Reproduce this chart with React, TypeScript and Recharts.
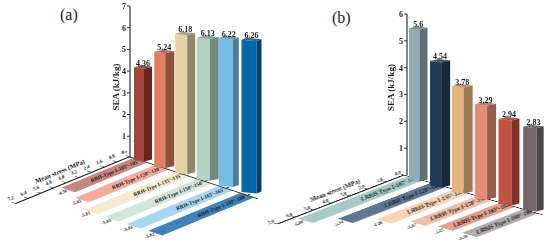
import { BarChart, Bar, XAxis, YAxis, Label } from "recharts";

const serif = '"Liberation Serif", serif';
const ink = "#1c1c1c";

// panel (a)
const categoriesA = [
  "RRH-Type I-105°-105°",
  "RRH-Type I-120°-120°",
  "RRH-Type I-135°-135°",
  "RRH-Type I-150°-150°",
  "RRH-Type I-165°-165°",
  "RRH-Type I-180°-180°",
];
const seaA = [4.36, 5.24, 6.18, 6.13, 6.22, 6.26];
const stressA = [4.56, 5.03, 5.81, 5.85, 5.83, 5.82];
const seaTicksA = [1, 2, 3, 4, 5, 6, 7];
const stressTicksA = [0, 0.8, 1.6, 2.4, 3.2, 4, 4.8, 5.6, 6.4, 7.2];
const frontA = ["#a5443a", "#e07f63", "#e5d2a6", "#b5d3c4", "#74bde6", "#0465ab"];
const sideA = ["#66261f", "#8f5238", "#92866e", "#76887f", "#4b7b99", "#02416f"];
const stripA = ["#c58580", "#f4ac9d", "#f3ebd3", "#d2e6da", "#a8d6ee", "#3f83ba"];

// panel (b)
const categoriesB = [
  "LRRH-Type I-105°-105°",
  "LRRH-Type I-120°-120°",
  "LRRH-Type I-135°-135°",
  "LRRH-Type I-150°-150°",
  "LRRH-Type I-165°-165°",
  "LRRH-Type I-180°-180°",
];
const seaB = [5.6, 4.54, 3.78, 3.29, 2.94, 2.83];
const stressB = [6.08, 5.14, 4.28, 3.67, 3.43, 3.38];
const seaTicksB = [1, 2, 3, 4, 5, 6];
const stressTicksB = [0, 1, 2, 3, 4, 5, 6, 7];
const frontB = ["#90acb6", "#24395c", "#e5b57e", "#e28d75", "#bf5440", "#75686b"];
const sideB = ["#5f7074", "#152a33", "#9a7a56", "#96604e", "#7f3127", "#4d4648"];
const stripB = ["#a9cbc7", "#5f7793", "#f4d5b6", "#f2bfa8", "#e2a08f", "#b0abac"];

const table = (names: string[], sea: number[], stress: number[]) =>
  names.map((name, i) => ({ name, sea: sea[i], stress: stress[i] }));

// floor plane: the stress chart is a flat horizontal bar chart sheared onto the floor
const PX_PER_UNIT = 50;
const ROW = 40;
const PAD_LEFT = 30;
const PAD_TOP = 40;
const AXIS_H = 30;

const Panel = ({ view, names, sea, stress, seaTicks, stressTicks, front, side, strip }: any) => {
  const data = table(names, sea, stress);
  const floorW = view.stressMax * PX_PER_UNIT;
  const lineY = PAD_TOP + AXIS_H;
  // local +x walks towards zero stress, so it is minus the per-unit floor vector
  const [a, b] = [-view.u[0] / PX_PER_UNIT, -view.u[1] / PX_PER_UNIT];
  const [c, d] = [view.v[0] / ROW, view.v[1] / ROW];
  const e = view.origin[0] - a * (PAD_LEFT + floorW) - c * lineY;
  const f = view.origin[1] - b * (PAD_LEFT + floorW) - d * lineY;

  // keeps floor text upright instead of sheared with the plane
  const det = a * d - b * c;
  const ang = Math.atan2(b, a);
  const [cs, sn] = [Math.cos(ang), Math.sin(ang)];
  const unshear = `matrix(${(d * cs - c * sn) / det} ${(-b * cs + a * sn) / det} ${(-d * sn - c * cs) / det} ${(b * sn + a * cs) / det} 0 0)`;
  const floorText = (x: number, y: number, text: string, size: number) => (
    <text
      transform={`translate(${x} ${y}) ${unshear}`}
      textAnchor="middle"
      dominantBaseline="central"
      fontFamily={serif}
      fontWeight={700}
      fontSize={size}
      fill={ink}
    >
      {text}
    </text>
  );

  const StripShape = (p: any) => {
    const left = Math.min(p.x, p.x + p.width);
    const right = Math.max(p.x, p.x + p.width);
    const mid = p.y + p.height / 2;
    return (
      <g>
        <rect x={left} y={p.y} width={right - left} height={p.height} fill={strip[p.index]} />
        {floorText(right - view.labelAt * PX_PER_UNIT, mid, p.payload.name, view.labelSize)}
        {floorText(left - 18, mid, "-" + p.payload.stress.toFixed(2), 4.6)}
      </g>
    );
  };

  const StressTick = (p: any) => floorText(p.x + view.tickDx, p.y + view.tickDy, p.payload.value.toFixed(1), 5);

  const BarShape = (p: any) => {
    const i = p.index;
    const scale = view.grow0 + view.grow * i;
    const h = p.height * scale;
    const base = p.y + p.height + view.drop0 + view.drop * i;
    const top = base - h;
    const x1 = p.x + view.inset + view.spread * i * (i - 5);
    const x2 = x1 + view.face0 + view.face * i;
    const x3 = x2 + view.depth[i];
    const xb = x1 + view.depth[i];
    return (
      <g>
        <polygon points={`${x1},${top} ${x2},${top + 1.5} ${x2},${base + 1.5} ${x1},${base}`} fill={front[i]} />
        <polygon points={`${x2},${top + 1.5} ${x3},${top - 0.5} ${x3},${base - 0.5} ${x2},${base + 1.5}`} fill={side[i]} />
        <polygon points={`${x1},${top} ${x2},${top + 1.5} ${x3},${top - 0.5} ${xb},${top - 2}`} fill={side[i]} fillOpacity={0.8} />
        <text x={(x1 + x3) / 2} y={top - 1.5} textAnchor="middle" fontFamily={serif} fontWeight={700} fontSize={8} fill={ink}>
          {p.payload.sea}
        </text>
      </g>
    );
  };

  return (
    <>
      <div style={{ position: "absolute", left: 0, top: 0, transformOrigin: "0 0", transform: `matrix(${a},${b},${c},${d},${e},${f})` }}>
        <BarChart
          width={PAD_LEFT + floorW + 20}
          height={lineY + ROW * data.length + 4}
          data={data}
          layout="vertical"
          margin={{ top: PAD_TOP, right: 0, bottom: 4, left: PAD_LEFT }}
          barCategoryGap={7}
        >
          <XAxis
            type="number"
            orientation="top"
            reversed
            domain={[0, view.stressMax]}
            ticks={stressTicks}
            height={AXIS_H}
            interval={0}
            tick={StressTick}
            tickSize={8}
            axisLine={{ stroke: ink, strokeWidth: 3 }}
            tickLine={{ stroke: ink, strokeWidth: 2 }}
          >
            <Label
              content={() =>
                floorText(PAD_LEFT + floorW * view.titleAt, lineY + view.titleUp, "Mean stress (MPa)", 6.6)
              }
            />
          </XAxis>
          <YAxis
            type="category"
            dataKey="name"
            orientation="right"
            width={20}
            tickFormatter={() => ""}
            tickSize={10}
            axisLine={{ stroke: ink, strokeWidth: 3 }}
            tickLine={{ stroke: ink, strokeWidth: 2 }}
          />
          <Bar dataKey="stress" shape={StripShape} isAnimationActive={false} />
        </BarChart>
      </div>
      <div style={{ position: "absolute", left: view.chartLeft, top: 0, willChange: "transform" }}>
        <BarChart width={275} height={249} data={data} margin={view.margin} barCategoryGap={0}>
          <XAxis dataKey="name" hide />
          <YAxis
            width={30}
            domain={[0, view.seaMax]}
            ticks={seaTicks}
            interval={0}
            tickSize={3}
            tickMargin={1}
            tick={{ fontSize: 8, fontWeight: 700, fontFamily: serif, fill: ink }}
            axisLine={{ stroke: "#333", strokeWidth: 1.2 }}
            tickLine={{ stroke: "#333" }}
          >
            <Label
              value="SEA (kJ/kg)"
              angle={-90}
              position="center"
              dx={view.titleDx}
              dy={view.titleDy}
              style={{ fontSize: 9, fontWeight: 700, fontFamily: serif, fill: ink }}
            />
          </YAxis>
          <Bar dataKey="sea" shape={BarShape} isAnimationActive={false} />
        </BarChart>
      </div>
    </>
  );
};

const viewA = {
  chartLeft: 0,
  margin: { top: 6, right: 16, bottom: 91, left: 100 },
  seaMax: 7,
  stressMax: 7.2,
  u: [-15.8, 6.5],
  v: [21.4, 7],
  origin: [129.5, 156.8],
  labelAt: 1.6,
  labelSize: 5.4,
  tickDx: 15,
  tickDy: -8,
  titleAt: 0.56,
  titleUp: -36.6,
  grow0: 0.98,
  grow: 0.028,
  drop0: 2,
  drop: 6.4,
  inset: 4,
  spread: 0.3,
  face0: 10,
  face: 1,
  depth: [8, 9, 8, 9, 6, 5],
  titleDx: 1,
  titleDy: 5,
};

const viewB = {
  chartLeft: 275,
  margin: { top: 14, right: 6, bottom: 74, left: 102 },
  seaMax: 6,
  stressMax: 7,
  u: [-18.1, 7],
  v: [23, 6.6],
  origin: [404, 175],
  labelAt: 1.4,
  labelSize: 5.9,
  tickDx: 0,
  tickDy: 0,
  titleAt: 0.592,
  titleUp: -30,
  grow0: 1.01,
  grow: 0.017,
  drop0: 5,
  drop: 6,
  inset: 2,
  spread: 0.45,
  face0: 10.5,
  face: 0.6,
  depth: [8, 9, 9, 9, 8, 7],
  titleDx: -1,
  titleDy: -7,
};

const panelMark = (text: string, left: number, top: number) => (
  <div style={{ position: "absolute", left, top, fontFamily: serif, fontSize: 16, lineHeight: "16px", color: ink }}>{text}</div>
);

export default function App() {
  return (
    <div style={{ position: "absolute", left: 0, top: 0, width: 550, height: 249, overflow: "hidden", background: "#fff" }}>
      {panelMark("(a)", 60, 7)}
      {panelMark("(b)", 332, 10)}
      <Panel
        view={viewA}
        names={categoriesA}
        sea={seaA}
        stress={stressA}
        seaTicks={seaTicksA}
        stressTicks={stressTicksA}
        front={frontA}
        side={sideA}
        strip={stripA}
      />
      <Panel
        view={viewB}
        names={categoriesB}
        sea={seaB}
        stress={stressB}
        seaTicks={seaTicksB}
        stressTicks={stressTicksB}
        front={frontB}
        side={sideB}
        strip={stripB}
      />
    </div>
  );
}
